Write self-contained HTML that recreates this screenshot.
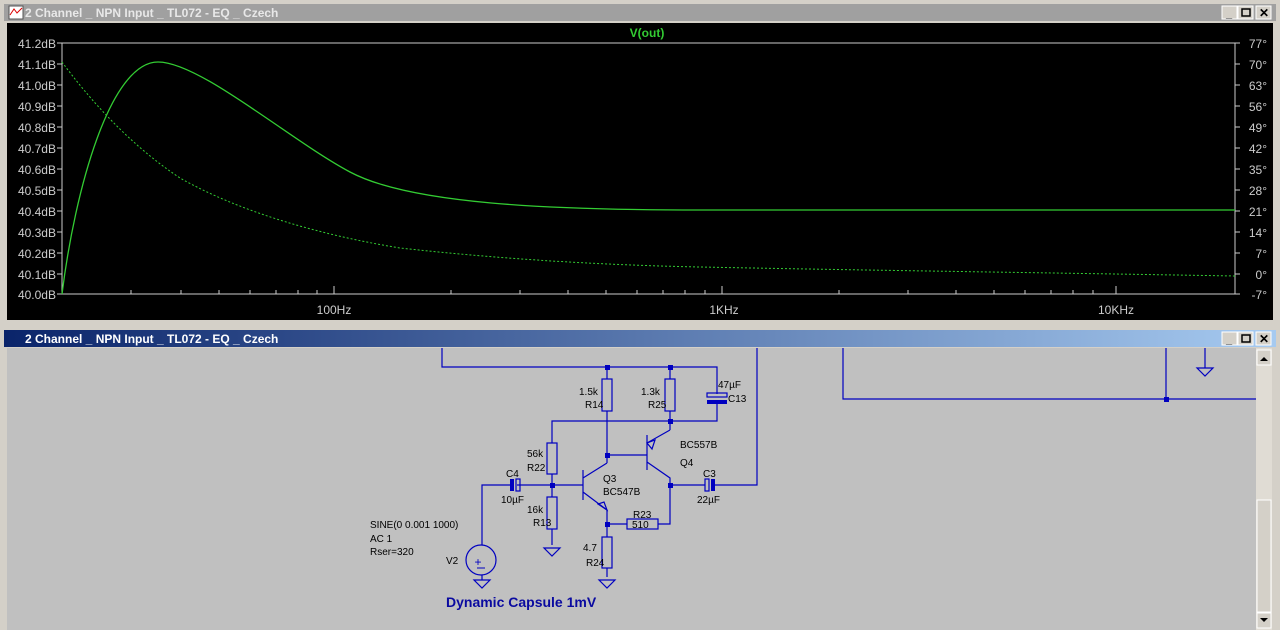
<!DOCTYPE html><html><head><style>
body{margin:0;width:1280px;height:630px;overflow:hidden;background:#d4d0c8;font-family:"Liberation Sans",sans-serif}
svg{position:absolute;left:0;top:0}
</style></head><body>
<svg width="1280" height="630" xmlns="http://www.w3.org/2000/svg" font-family="Liberation Sans, sans-serif">
<defs><linearGradient id="bt" x1="0" x2="1"><stop offset="0" stop-color="#0a246a"/><stop offset="1" stop-color="#a6caf0"/></linearGradient></defs>
<rect width="1280" height="630" fill="#d4d0c8"/>
<!-- top window -->
<rect x="4" y="4" width="1272" height="17" fill="#a0a0a0"/>
<rect x="9" y="6" width="14" height="13" fill="#fff" stroke="#555"/>
<path d="M10 15 L14 9 L17 13 L22 8" stroke="#d00" fill="none"/>
<text x="25" y="17" font-size="12" font-weight="bold" fill="#e8e8e8">2 Channel _ NPN Input _ TL072 - EQ _ Czech</text>
<g fill="#d4d0c8" stroke="#fff"><rect x="1222" y="6" width="15" height="13"/><rect x="1238" y="6" width="15" height="13"/><rect x="1256" y="6" width="15" height="13"/></g>
<text x="1226" y="17" font-size="11" font-weight="bold">_</text><rect x="1242" y="9" width="8" height="7" fill="none" stroke="#000" stroke-width="1.5"/><text x="1259" y="17" font-size="12" font-weight="bold">✕</text>
<rect x="7" y="23" width="1266" height="297" fill="#000"/>
<text x="647" y="37" font-size="12" font-weight="bold" fill="#3c3" text-anchor="middle">V(out)</text>
<g stroke="#ccc" fill="none"><path d="M62 43 H1235 V294 H62 Z"/>
<path d="M57 43h5M57 64h5M57 85h5M57 106h5M57 127h5M57 148h5M57 169h5M57 190h5M57 211h5M57 232h5M57 253h5M57 274h5M57 294h5"/>
<path d="M1235 43h5M1235 64h5M1235 85h5M1235 106h5M1235 127h5M1235 148h5M1235 169h5M1235 190h5M1235 211h5M1235 232h5M1235 253h5M1235 274h5M1235 294h5"/>
<path d="M131 294v-4M181 294v-4M219 294v-4M250 294v-4M276 294v-4M298 294v-4M317 294v-4M334 294v-8M451 294v-4M520 294v-4M568 294v-4M606 294v-4M637 294v-4M663 294v-4M685 294v-4M705 294v-4M722 294v-8M839 294v-4M908 294v-4M956 294v-4M994 294v-4M1025 294v-4M1051 294v-4M1073 294v-4M1093 294v-4M1116 294v-8"/></g>
<g font-size="12" fill="#ccc" text-anchor="end">
<text x="56" y="48">41.2dB</text><text x="56" y="69">41.1dB</text><text x="56" y="90">41.0dB</text><text x="56" y="111">40.9dB</text><text x="56" y="132">40.8dB</text><text x="56" y="153">40.7dB</text><text x="56" y="174">40.6dB</text><text x="56" y="195">40.5dB</text><text x="56" y="216">40.4dB</text><text x="56" y="237">40.3dB</text><text x="56" y="258">40.2dB</text><text x="56" y="279">40.1dB</text><text x="56" y="299">40.0dB</text></g>
<g font-size="12" fill="#ccc" text-anchor="end">
<text x="1267" y="48">77°</text><text x="1267" y="69">70°</text><text x="1267" y="90">63°</text><text x="1267" y="111">56°</text><text x="1267" y="132">49°</text><text x="1267" y="153">42°</text><text x="1267" y="174">35°</text><text x="1267" y="195">28°</text><text x="1267" y="216">21°</text><text x="1267" y="237">14°</text><text x="1267" y="258">7°</text><text x="1267" y="279">0°</text><text x="1267" y="299">-7°</text></g>
<g font-size="12" fill="#ccc" text-anchor="middle"><text x="334" y="314">100Hz</text><text x="724" y="314">1KHz</text><text x="1116" y="314">10KHz</text></g>
<path d="M62 294 C75 190 110 62 158 62 C200 62 290 140 350 172 C410 204 550 210 700 210 L1235 210" stroke="#3c3" stroke-width="1.3" fill="none"/>
<path d="M62 62 C90 100 130 145 180 178 C240 212 320 235 400 248 C500 259 600 265 700 267 C850 270 1000 272 1235 276" stroke="#3c3" stroke-width="1" stroke-dasharray="2 2" fill="none"/>
<!-- bottom window -->
<rect x="4" y="330" width="1272" height="17" fill="url(#bt)"/>
<text x="25" y="343" font-size="12" font-weight="bold" fill="#fff">2 Channel _ NPN Input _ TL072 - EQ _ Czech</text>
<g fill="#d4d0c8" stroke="#fff"><rect x="1222" y="332" width="15" height="13"/><rect x="1238" y="332" width="15" height="13"/><rect x="1256" y="332" width="15" height="13"/></g>
<text x="1226" y="343" font-size="11" font-weight="bold">_</text><rect x="1242" y="335" width="8" height="7" fill="none" stroke="#000" stroke-width="1.5"/><text x="1259" y="343" font-size="12" font-weight="bold">✕</text>
<rect x="7" y="348" width="1249" height="282" fill="#c0c0c0"/>
<rect x="1256" y="348" width="16" height="282" fill="#e0dcd4"/>
<rect x="1257" y="350" width="14" height="15" fill="#d4d0c8" stroke="#fff"/><path d="M1260 361h8l-4-4z" fill="#000"/>
<rect x="1257" y="500" width="14" height="112" fill="#d4d0c8" stroke="#fff"/>
<rect x="1257" y="613" width="14" height="15" fill="#d4d0c8" stroke="#fff"/><path d="M1260 618h8l-4 4z" fill="#000"/>
<g stroke="#0000c0" fill="none" stroke-width="1.2">
<path d="M442 348V367H717V394M717 404V421H552V443M552 474V497M552 529V545M757 348V485H712M705 485H670M670 411V430M607 367V379M670 367V379M607 411V463M607 455H647M647 435V470M670 430L647 443M647 462L670 478V524H658M627 524H607M607 510V537M607 568V577M583 485H552M517 485H552M510 485H482V545M482 575V580M583 470V500M583 478L607 463M583 492L607 510"/>
<path d="M843 348V399H1256M1166 348V399M1205 348V368"/>
<rect x="602" y="379" width="10" height="32"/><rect x="665" y="379" width="10" height="32"/>
<rect x="547" y="443" width="10" height="31"/><rect x="547" y="497" width="10" height="32"/>
<rect x="602" y="537" width="10" height="31"/><rect x="627" y="519" width="31" height="10"/>
<rect x="707" y="393" width="20" height="4"/><rect x="516" y="479" width="4" height="12"/><rect x="705" y="479" width="4" height="12"/>
<circle cx="481" cy="560" r="15"/>
<path d="M544 548h16l-8 8z M599 580h16l-8 8z M474 580h16l-8 8z M1197 368h16l-8 8z"/>
<path d="M598 504l9 6-3-8z M655 440l-8 3 5 6z"/>
</g>
<g fill="#0000c0"><rect x="707" y="400" width="20" height="4"/><rect x="510" y="479" width="4" height="12"/><rect x="711" y="479" width="4" height="12"/>
<rect x="605" y="365" width="5" height="5"/><rect x="668" y="365" width="5" height="5"/><rect x="668" y="419" width="5" height="5"/><rect x="605" y="453" width="5" height="5"/><rect x="550" y="483" width="5" height="5"/><rect x="668" y="483" width="5" height="5"/><rect x="605" y="522" width="5" height="5"/><rect x="1164" y="397" width="5" height="5"/></g>
<text x="478" y="566" font-size="12" fill="#0000c0" text-anchor="middle">+</text>
<path d="M477 568h8" stroke="#0000c0"/>
<g font-size="10" fill="#000">
<text x="579" y="395">1.5k</text><text x="585" y="408">R14</text><text x="641" y="395">1.3k</text><text x="648" y="408">R25</text>
<text x="718" y="388">47µF</text><text x="728" y="402">C13</text><text x="527" y="457">56k</text><text x="527" y="471">R22</text>
<text x="506" y="477">C4</text><text x="501" y="503">10µF</text><text x="527" y="513">16k</text><text x="533" y="526">R13</text>
<text x="603" y="482">Q3</text><text x="603" y="495">BC547B</text><text x="680" y="448">BC557B</text><text x="680" y="466">Q4</text>
<text x="703" y="477">C3</text><text x="697" y="503">22µF</text><text x="633" y="518">R23</text><text x="632" y="528">510</text>
<text x="583" y="551">4.7</text><text x="586" y="566">R24</text>
<text x="370" y="528">SINE(0 0.001 1000)</text><text x="370" y="542">AC 1</text><text x="370" y="555">Rser=320</text><text x="446" y="564">V2</text></g>
<text x="446" y="607" font-size="14" font-weight="bold" fill="#0a0aa0">Dynamic Capsule 1mV</text>
</svg></body></html>
